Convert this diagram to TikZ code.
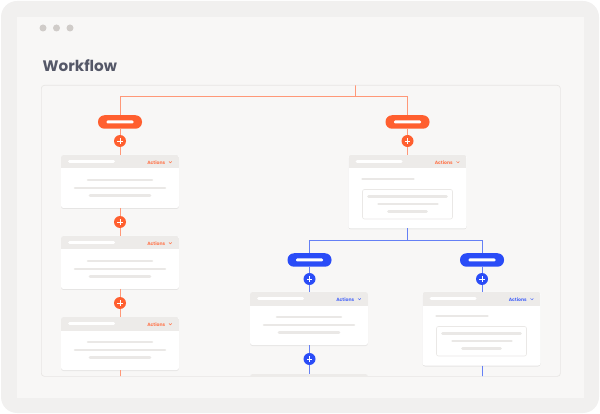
\documentclass[tikz,border=0pt]{standalone}
\usepackage{fontspec}
\setmainfont{Poppins}
\usetikzlibrary{shadows}
\definecolor{frameC}{HTML}{F1F0EF}
\definecolor{innerC}{HTML}{F8F7F6}
\definecolor{panelB}{HTML}{E8E6E4}
\definecolor{dotC}{HTML}{D0CCC9}
\definecolor{titleC}{HTML}{555868}
\definecolor{orangeC}{HTML}{FF5F2F}
\definecolor{orangeL}{HTML}{FF9878}
\definecolor{blueC}{HTML}{2A4CF7}
\definecolor{blueL}{HTML}{6580F5}
\definecolor{headC}{HTML}{EDEBE9}
\definecolor{barC}{HTML}{EAE8E6}
\tikzset{
  cardbox/.style={rectangle, rounded corners=2.5pt, fill=white, inner sep=0pt, outer sep=0pt,
     anchor=north, minimum width=118pt,
     drop shadow={shadow xshift=0pt, shadow yshift=-1pt, opacity=0.07, fill=black}},
  pillbox/.style={rectangle, rounded corners=6.5pt, fill=#1, minimum width=44pt, minimum height=13.5pt, inner sep=0pt,
     path picture={\fill[white, rounded corners=1.2pt] ([xshift=-13.5pt,yshift=-1.5pt]path picture bounding box.center) rectangle ++(27pt,3pt);}},
  plusbox/.style={circle, fill=#1, minimum size=12pt, inner sep=0pt,
     path picture={\draw[white, line width=0.8pt] ([xshift=-2.6pt]path picture bounding box.center) -- ([xshift=2.6pt]path picture bounding box.center)
        ([yshift=-2.6pt]path picture bounding box.center) -- ([yshift=2.6pt]path picture bounding box.center);}},
  oline/.style={draw=orangeL, line width=1pt},
  bline/.style={draw=blueL, line width=1pt},
  barline/.style={draw=barC, line width=2.6pt, line cap=round},
  actlabel/.style={font=\bfseries\fontsize{4.6}{5}\selectfont, inner sep=0pt, anchor=east}
}
% card header: name, accent colour
\newcommand\wfhead[2]{%
  \begin{scope}
    \clip[rounded corners=2.5pt] (#1.north west) rectangle (#1.south east);
    \fill[headC] (#1.north west) rectangle ([yshift=-13.5pt]#1.north east);
  \end{scope}
  \fill[white, rounded corners=1.3pt] ([xshift=7pt,yshift=-5.2pt]#1.north west) rectangle ([xshift=54pt,yshift=-7.8pt]#1.north west);
  \node[actlabel, text=#2!85] at ([xshift=-13.5pt,yshift=-7.2pt]#1.north east) {Actions};
  \draw[#2!85, line width=0.5pt] ([xshift=-10pt,yshift=-6.4pt]#1.north east) -- ([xshift=-8.6pt,yshift=-7.8pt]#1.north east) -- ([xshift=-7.2pt,yshift=-6.4pt]#1.north east);
}
% simple card: name, cx, top, accent
\newcommand\wfsimple[4]{%
  \node[cardbox, minimum height=53pt] (#1) at (#2,#3) {};
  \wfhead{#1}{#4}
  \draw[barline] ([xshift=-32pt,yshift=-25pt]#1.north) -- ([xshift=32pt,yshift=-25pt]#1.north);
  \draw[barline] ([xshift=-45pt,yshift=-33pt]#1.north) -- ([xshift=45pt,yshift=-33pt]#1.north);
  \draw[barline] ([xshift=-30pt,yshift=-40.5pt]#1.north) -- ([xshift=30pt,yshift=-40.5pt]#1.north);
}
% boxed card: name, cx, top, accent
\newcommand\wfboxed[4]{%
  \node[cardbox, minimum height=73.5pt] (#1) at (#2,#3) {};
  \wfhead{#1}{#4}
  \draw[barline] ([xshift=14pt,yshift=-24pt]#1.north west) -- ([xshift=65pt,yshift=-24pt]#1.north west);
  \draw[draw=barC, fill=white, line width=0.6pt, rounded corners=2pt] ([xshift=14pt,yshift=-34.5pt]#1.north west) rectangle ([xshift=104pt,yshift=-64pt]#1.north west);
  \draw[barline] ([xshift=20pt,yshift=-41.5pt]#1.north west) -- ([xshift=98pt,yshift=-41.5pt]#1.north west);
  \draw[barline] ([xshift=30pt,yshift=-49pt]#1.north west) -- ([xshift=89pt,yshift=-49pt]#1.north west);
  \draw[barline] ([xshift=40pt,yshift=-56.5pt]#1.north west) -- ([xshift=78pt,yshift=-56.5pt]#1.north west);
}
\begin{document}
\begin{tikzpicture}[x=1pt,y=-1pt]
\useasboundingbox (0,0) rectangle (600,414);
% frame
\fill[frameC, rounded corners=16pt] (1,1) rectangle (599,413);
\fill[innerC] (17,17) rectangle (584,398);
\foreach \dx/\nm in {43/d1,56.5/d2,70/d3} \node[circle, fill=dotC, minimum size=7pt, inner sep=0pt] (\nm) at (\dx,28) {};
\node[anchor=base west, inner sep=0pt, text=titleC, font=\bfseries\fontsize{15.2}{17}\selectfont] (title) at (42.5,72) {Workflow};
% panel
\node[rectangle, rounded corners=3pt, draw=panelB, fill=innerC, line width=0.7pt, anchor=north west, minimum width=519pt, minimum height=291pt, inner sep=0pt] (panel) at (41,85) {};
\begin{scope}
\clip[rounded corners=3pt] (41.5,85.5) rectangle (559.5,376);
% left column
\node[pillbox=orangeC] (pillL) at (120,122) {};
\node[plusbox=orangeC] (plL1) at (120,141) {};
\wfsimple{cL1}{120}{155}{orangeC}
\node[plusbox=orangeC] (plL2) at (120,222) {};
\wfsimple{cL2}{120}{236}{orangeC}
\node[plusbox=orangeC] (plL3) at (120,303) {};
\wfsimple{cL3}{120}{317}{orangeC}
% right column
\node[pillbox=orangeC] (pillR) at (407.5,122) {};
\node[plusbox=orangeC] (plR1) at (407.5,141) {};
\wfboxed{cR1}{407.5}{155}{orangeC}
% blue branches
\node[pillbox=blueC] (pillB1) at (309.5,260) {};
\node[plusbox=blueC] (plB1) at (309.5,279) {};
\wfsimple{cB1}{309}{292}{blueC}
\node[plusbox=blueC] (plB2) at (309.5,359) {};
\wfsimple{cB3}{309}{374}{blueC}
\node[pillbox=blueC] (pillB2) at (482,260) {};
\node[plusbox=blueC] (plB3) at (482,279) {};
\wfboxed{cB2}{481.5}{292}{blueC}
% coordinates
\coordinate (otop) at (355.5,85);
\coordinate (ojn) at (355.5,97);
\coordinate (bjn) at (407.5,241);
\coordinate (endL) at (120,380);
\coordinate (endB2) at (482,380);
% orange connectors
\draw[oline] (otop) -- (ojn);
\draw[oline] (pillL.north) -- (pillL.north |- ojn) -- (pillR.north |- ojn) -- (pillR.north);
\draw[oline] (pillL) -- (plL1);
\draw[oline] (plL1) -- (cL1);
\draw[oline] (cL1) -- (plL2);
\draw[oline] (plL2) -- (cL2);
\draw[oline] (cL2) -- (plL3);
\draw[oline] (plL3) -- (cL3);
\draw[oline] (cL3.south) -- (endL);
\draw[oline] (pillR) -- (plR1);
\draw[oline] (plR1) -- (cR1);
% blue connectors
\draw[bline] (cR1.south) -- (bjn);
\draw[bline] (pillB1.north) -- (pillB1.north |- bjn) -- (pillB2.north |- bjn) -- (pillB2.north);
\draw[bline] (pillB1) -- (plB1);
\draw[bline] (plB1) -- (cB1.north -| plB1);
\draw[bline] (cB1.south -| plB2) -- (plB2);
\draw[bline] (plB2) -- (cB3.north -| plB2);
\draw[bline] (pillB2) -- (plB3);
\draw[bline] (plB3) -- (cB2.north -| plB3);
\draw[bline] (cB2.south -| endB2) -- (endB2);
\end{scope}
\end{tikzpicture}
\end{document}
